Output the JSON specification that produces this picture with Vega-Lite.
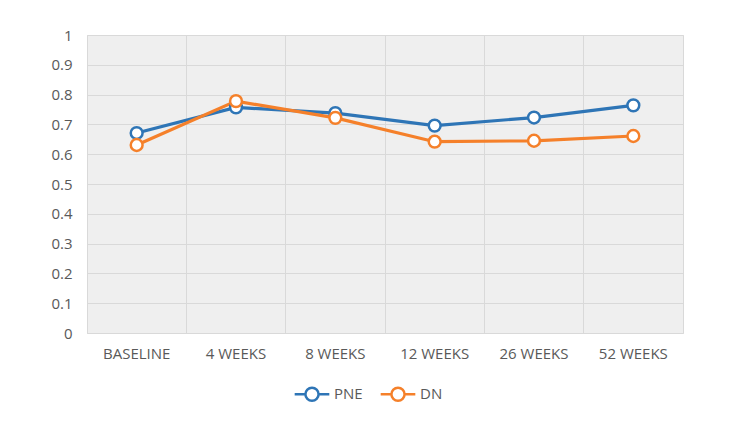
{
  "$schema": "https://vega.github.io/schema/vega-lite/v6.json",
  "width": 596,
  "height": 298,
  "autosize": {"type": "none"},
  "padding": {"left": 87, "top": 35, "right": 48, "bottom": 95},
  "background": "white",
  "config": {
    "view": {"stroke": "#d9d9d9", "strokeWidth": 1, "fill": "#efefef"},
    "font": "Open Sans",
    "axis": {"labelFont": "Open Sans", "labelColor": "#595959", "labelFontSize": 15}
  },
  "data": {
    "values": [
      {"time": "BASELINE", "series": "PNE", "value": 0.671},
      {"time": "4 WEEKS", "series": "PNE", "value": 0.757},
      {"time": "8 WEEKS", "series": "PNE", "value": 0.738},
      {"time": "12 WEEKS", "series": "PNE", "value": 0.696},
      {"time": "26 WEEKS", "series": "PNE", "value": 0.723},
      {"time": "52 WEEKS", "series": "PNE", "value": 0.764},
      {"time": "BASELINE", "series": "DN", "value": 0.631},
      {"time": "4 WEEKS", "series": "DN", "value": 0.778},
      {"time": "8 WEEKS", "series": "DN", "value": 0.722},
      {"time": "12 WEEKS", "series": "DN", "value": 0.642},
      {"time": "26 WEEKS", "series": "DN", "value": 0.645},
      {"time": "52 WEEKS", "series": "DN", "value": 0.661}
    ]
  },
  "encoding": {
    "x": {
      "field": "time", "type": "nominal",
      "sort": ["BASELINE", "4 WEEKS", "8 WEEKS", "12 WEEKS", "26 WEEKS", "52 WEEKS"],
      "scale": {"type": "band", "paddingInner": 0, "paddingOuter": 0},
      "axis": {"title": null, "labelAngle": 0, "ticks": false, "domain": false, "grid": true, "bandPosition": 0, "gridColor": "#d9d9d9", "labelPadding": 13}
    },
    "y": {
      "field": "value", "type": "quantitative",
      "scale": {"domain": [0, 1], "nice": false},
      "axis": {"title": null, "values": [0, 0.1, 0.2, 0.3, 0.4, 0.5, 0.6, 0.7, 0.8, 0.9, 1], "format": ".1~f", "ticks": false, "domain": false, "gridColor": "#d9d9d9", "labelPadding": 15}
    },
    "color": {
      "field": "series", "type": "nominal",
      "sort": ["PNE", "DN"],
      "scale": {"domain": ["PNE", "DN"], "range": ["#2E75B6", "#F5802A"]},
      "legend": {
        "title": null, "orient": "none", "direction": "horizontal",
        "legendX": 206, "legendY": 340,
        "symbolType": "M-1,0L-0.38,0M0.38,0L1,0M-0.38,0A0.38,0.38 0 1 1 0.38,0A0.38,0.38 0 1 1 -0.38,0Z",
        "symbolSize": 1200, "symbolStrokeWidth": 2.5, "symbolFillColor": "white",
        "labelFontSize": 15, "labelColor": "#595959", "labelFont": "Open Sans",
        "columnPadding": 12, "labelOffset": 3
      }
    }
  },
  "layer": [
    {"mark": {"type": "line", "strokeWidth": 3.2}},
    {"mark": {"type": "point", "filled": false, "fill": "white", "size": 140, "strokeWidth": 2.5, "opacity": 1}}
  ]
}
